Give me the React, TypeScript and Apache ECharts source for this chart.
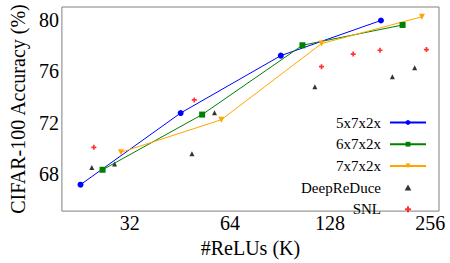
import React, { useEffect, useRef } from "react";
import * as echarts from "echarts";

const xTicks = [32, 64, 128, 256];
const yTicks = [68, 72, 76, 80];

const relus5 = [22.75, 45.5, 91, 182];
const acc5 = [67.16, 72.74, 77.21, 79.95];

const relus6 = [26.5, 52.8, 105.7, 211.4];
const acc6 = [68.32, 72.62, 78.02, 79.6];

const relus7 = [30.1, 60.3, 120.6, 241.7];
const acc7 = [69.68, 72.22, 78.15, 80.24];

const relusDRD = [24.6, 28.8, 49.2, 57.5, 115.2, 197, 229.9];
const accDRD = [68.49, 68.76, 69.56, 72.77, 74.79, 75.56, 76.27];

const relusSNL = [24.95, 50.0, 120.6, 150.2, 180.8, 249.3];
const accSNL = [70.07, 73.76, 76.35, 77.33, 77.63, 77.68];

const pair = (xs: number[], ys: number[]) => xs.map((x, i) => [x, ys[i]]);

const FONT = "Liberation Serif";
const PLUS = "path://M1,0H2V1H3V2H2V3H1V2H0V1H1Z";
const TRI = "path://M1,0L2,1.8L0,1.8Z";

export default function App() {
  const ref = useRef<HTMLDivElement>(null);
  useEffect(() => {
    if (!ref.current) return;
    const chart = echarts.init(ref.current, undefined, { renderer: "svg" });
    chart.setOption({
      animation: false,
      grid: {
        left: 45,
        right: 11,
        top: 7,
        bottom: 42,
        show: true,
        borderColor: "#808080",
        borderWidth: 1,
      },
      xAxis: {
        type: "log",
        logBase: 2,
        min: 20,
        max: 272,
        name: "#ReLUs (K)",
        nameLocation: "middle",
        nameGap: 19,
        nameTextStyle: { fontFamily: FONT, fontSize: 20, color: "#000" },
        axisLine: { show: false },
        axisTick: { show: false },
        splitLine: { show: false },
        axisLabel: {
          customValues: xTicks,
          fontFamily: FONT,
          fontSize: 20,
          color: "#000",
          margin: 2,
        },
      },
      yAxis: {
        type: "value",
        min: 65.1,
        max: 81,
        name: "CIFAR-100 Accuracy (%)",
        nameLocation: "middle",
        nameGap: 26,
        nameTextStyle: { fontFamily: FONT, fontSize: 20, color: "#000" },
        axisLine: { show: false },
        axisTick: { show: false },
        splitLine: { show: false },
        axisLabel: {
          customValues: yTicks,
          fontFamily: FONT,
          fontSize: 20,
          color: "#000",
          margin: 3,
        },
      },
      legend: {
        orient: "vertical",
        right: 23,
        top: 115,
        padding: 0,
        align: "right",
        itemWidth: 36,
        itemHeight: 6,
        itemGap: 6.7,
        symbolKeepAspect: true,
        textStyle: { fontFamily: FONT, fontSize: 15, color: "#000", padding: [0, 4, 0, 0] },
        data: [
          { name: "5x7x2x" },
          { name: "6x7x2x" },
          { name: "7x7x2x" },
          { name: "DeepReDuce", icon: TRI },
          { name: "SNL", icon: PLUS },
        ],
      },
      series: [
        {
          name: "5x7x2x",
          type: "line",
          data: pair(relus5, acc5),
          symbol: "circle",
          symbolSize: 6,
          color: "#0000ff",
          lineStyle: { width: 1, color: "#0000ff" },
          itemStyle: { color: "#0000ff" },
        },
        {
          name: "6x7x2x",
          type: "line",
          data: pair(relus6, acc6),
          symbol: "rect",
          symbolSize: 6,
          color: "#008000",
          lineStyle: { width: 1, color: "#008000" },
          itemStyle: { color: "#008000" },
        },
        {
          name: "7x7x2x",
          type: "line",
          data: pair(relus7, acc7),
          symbol: "triangle",
          symbolRotate: 180,
          symbolSize: 6,
          color: "#ffa500",
          lineStyle: { width: 1, color: "#ffa500" },
          itemStyle: { color: "#ffa500" },
        },
        {
          name: "DeepReDuce",
          type: "scatter",
          data: pair(relusDRD, accDRD),
          symbol: TRI,
          symbolSize: 5,
          color: "#000000",
          itemStyle: { color: "#000000" },
        },
        {
          name: "SNL",
          type: "scatter",
          data: pair(relusSNL, accSNL),
          symbol: PLUS,
          symbolSize: 5,
          color: "#ff0000",
          itemStyle: { color: "#ff0000" },
        },
      ],
    });
    return () => chart.dispose();
  }, []);
  return (
    <div
      ref={ref}
      style={{ position: "fixed", left: 0, top: 0, width: 450, height: 263, background: "#fff" }}
    />
  );
}
